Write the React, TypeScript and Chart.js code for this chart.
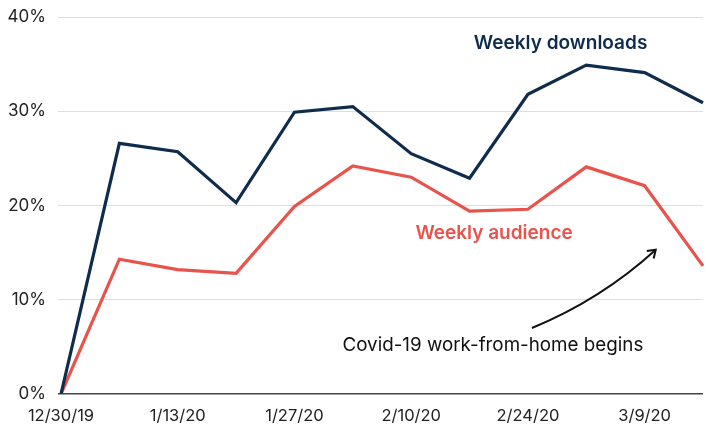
import React, { useEffect, useRef } from "react";
import { Chart, registerables } from "chart.js";

Chart.register(...registerables);

const dates = ["12/30/19", "1/6/20", "1/13/20", "1/20/20", "1/27/20", "2/3/20", "2/10/20", "2/17/20", "2/24/20", "3/2/20", "3/9/20", "3/16/20"];
const weeklyDownloads = [0, 26.6, 25.7, 20.3, 29.9, 30.5, 25.5, 22.9, 31.8, 34.9, 34.1, 30.9];
const weeklyAudience = [0, 14.3, 13.2, 12.8, 19.9, 24.2, 23.0, 19.4, 19.6, 24.1, 22.1, 13.6];
const yTicks = [0, 10, 20, 30, 40];

const NAVY = "#0f2c4c";
const RED = "#e8534c";
const FONT = "Inter, 'Noto Sans', sans-serif";

// annotation anchors in data units [x index, y value]
const downloadsLabel = { text: "Weekly downloads", x: 8.56, y: 37.2 };
const audienceLabel = { text: "Weekly audience", x: 7.42, y: 17.1 };
const noteLabel = { text: "Covid-19 work-from-home begins", x: 7.4, y: 5.2 };
const arrowPath = { start: [8.07, 7.0], ctrl: [9.25, 10.0], end: [10.19, 15.3] };

const annotations = {
  id: "annotations",
  afterDatasetsDraw(chart: any) {
    const { ctx, scales } = chart;
    const xs = scales.x;
    const ys = scales.y;
    const px = (v: number) => xs.getPixelForValue(v);
    const py = (v: number) => ys.getPixelForValue(v);
    ctx.save();
    ctx.textAlign = "center";
    ctx.textBaseline = "middle";
    ctx.font = `600 19px ${FONT}`;
    ctx.fillStyle = NAVY;
    ctx.fillText(downloadsLabel.text, px(downloadsLabel.x), py(downloadsLabel.y));
    ctx.fillStyle = RED;
    ctx.fillText(audienceLabel.text, px(audienceLabel.x), py(audienceLabel.y));
    ctx.font = `400 18.8px ${FONT}`;
    ctx.fillStyle = "#111";
    ctx.fillText(noteLabel.text, px(noteLabel.x), py(noteLabel.y));

    const s = [px(arrowPath.start[0]), py(arrowPath.start[1])];
    const c = [px(arrowPath.ctrl[0]), py(arrowPath.ctrl[1])];
    const e = [px(arrowPath.end[0]), py(arrowPath.end[1])];
    ctx.strokeStyle = "#111";
    ctx.lineWidth = 2;
    ctx.beginPath();
    ctx.moveTo(s[0], s[1]);
    ctx.quadraticCurveTo(c[0], c[1], e[0], e[1]);
    ctx.stroke();
    const ang = Math.atan2(e[1] - c[1], e[0] - c[0]);
    const L = 9;
    ctx.beginPath();
    ctx.moveTo(e[0] - L * Math.cos(ang - 0.6), e[1] - L * Math.sin(ang - 0.6));
    ctx.lineTo(e[0], e[1]);
    ctx.lineTo(e[0] - L * Math.cos(ang + 0.6), e[1] - L * Math.sin(ang + 0.6));
    ctx.stroke();
    ctx.restore();
  },
};

export default function App() {
  const ref = useRef<HTMLCanvasElement>(null);
  useEffect(() => {
    if (!ref.current) return;
    const chart = new Chart(ref.current, {
      type: "line",
      data: {
        labels: dates,
        datasets: [
          { label: "Weekly downloads", data: weeklyDownloads, borderColor: NAVY, borderWidth: 3.2, pointRadius: 0, tension: 0 },
          { label: "Weekly audience", data: weeklyAudience, borderColor: RED, borderWidth: 3.2, pointRadius: 0, tension: 0 },
        ],
      },
      options: {
        animation: false,
        responsive: false,
        layout: { padding: { top: 17, right: 3, bottom: 0, left: 0 } },
        plugins: { legend: { display: false }, tooltip: { enabled: false } },
        scales: {
          x: {
            type: "category",
            grid: { display: false },
            border: { display: false },
            afterFit: (scale: any) => {
              scale.height = 38;
              scale.paddingLeft = 0;
              scale.paddingRight = 0;
            },
            ticks: {
              autoSkip: false,
              maxRotation: 0,
              padding: 4,
              color: "#222",
              font: { family: FONT, size: 16.5 },
              callback: (_v: any, i: number) => (i % 2 === 0 ? dates[i] : ""),
            },
          },
          y: {
            min: 0,
            max: 40,
            afterBuildTicks: (scale: any) => {
              scale.ticks = yTicks.map((v) => ({ value: v }));
            },
            afterFit: (scale: any) => {
              scale.width = 61;
              scale.paddingTop = 0;
              scale.paddingBottom = 0;
            },
            border: { display: false },
            grid: {
              color: (c: any) => (c.tick && c.tick.value === 0 ? "#444" : "#dedede"),
              lineWidth: (c: any) => (c.tick && c.tick.value === 0 ? 1.5 : 1),
              tickLength: 3,
            },
            ticks: {
              padding: 12,
              color: "#222",
              font: { family: FONT, size: 17 },
              callback: (v: any) => `${v}%`,
            },
          },
        },
      },
      plugins: [annotations],
    });
    return () => chart.destroy();
  }, []);
  return (
    <div style={{ position: "fixed", left: 0, top: 0, width: 706, height: 432, background: "#fff" }}>
      <canvas ref={ref} width={706} height={432} />
    </div>
  );
}
